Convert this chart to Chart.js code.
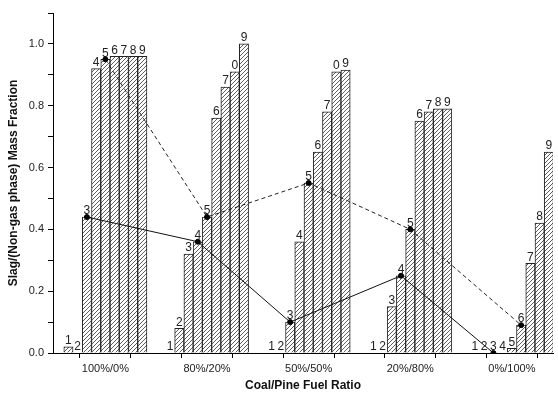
<!DOCTYPE html>
<html>
<head>
<meta charset="utf-8">
<script src="https://cdn.jsdelivr.net/npm/chart.js@4"></script>
<style>
html,body{margin:0;padding:0;background:#fff;}
canvas{display:block;}
</style>
</head>
<body>
<canvas id="c" width="558" height="393"></canvas>
<script>
// ---- data ----
const categories = ['100%/0%', '80%/20%', '50%/50%', '20%/80%', '0%/100%'];
const coal100 = [0.02, 0, 0.44, 0.92, 0.95, 0.96, 0.96, 0.96, 0.96];
const coal80  = [0, 0.08, 0.32, 0.36, 0.44, 0.76, 0.86, 0.91, 1.00];
const coal50  = [0, 0, 0.10, 0.36, 0.55, 0.65, 0.78, 0.91, 0.915];
const coal20  = [0, 0, 0.15, 0.25, 0.40, 0.75, 0.78, 0.79, 0.79];
const coal0   = [0, 0, 0, 0, 0.015, 0.09, 0.29, 0.42, 0.65];
const labels100 = ['1','2','3','4','5','6','7','8','9'];
const labels80  = ['1','2','3','4','5','6','7','0','9'];
const labels50  = ['1','2','3','4','5','6','7','0','9'];
const labels20  = ['1','2','3','4','5','6','7','8','9'];
const labels0   = ['1','2','3','4','5','6','7','8','9'];
const solidBar  = [3, 4, 3, 4, 3];   // bar number marked on solid line
const dashedBar = [5, 5, 5, 5, 6];   // bar number marked on dashed line
const yTicks = [0, 0.1, 0.2, 0.3, 0.4, 0.5, 0.6, 0.7, 0.8, 0.9, 1.0, 1.1];

// ---- build ----
const groupsVals = [coal100, coal80, coal50, coal20, coal0];
const groupsLabels = [labels100, labels80, labels50, labels20, labels0];
const SLOTS = 11;
const barPoints = [];
const barText = [];
groupsVals.forEach((vals, g) => {
  vals.forEach((v, i) => {
    barPoints.push({x: g * SLOTS + i, y: v});
    barText.push(groupsLabels[g][i]);
  });
});
const solidPts = solidBar.map((b, g) => ({x: g * SLOTS + b - 1, y: groupsVals[g][b - 1]}));
const dashedPts = dashedBar.map((b, g) => ({x: g * SLOTS + b - 1, y: groupsVals[g][b - 1]}));

// hatch pattern
function hatch() {
  const s = 4;
  const cv = document.createElement('canvas');
  cv.width = s; cv.height = s;
  const c = cv.getContext('2d');
  c.fillStyle = '#ffffff';
  c.fillRect(0, 0, s, s);
  c.strokeStyle = '#606060';
  c.lineWidth = 1;
  c.beginPath();
  c.moveTo(-1, s + 1); c.lineTo(s + 1, -1);
  c.moveTo(-1, 1); c.lineTo(1, -1);
  c.moveTo(s - 1, s + 1); c.lineTo(s + 1, s - 1);
  c.stroke();
  return c.createPattern(cv, 'repeat');
}

const FONT = '"Liberation Sans", Arial, sans-serif';

const barLabelPlugin = {
  id: 'barLabels',
  afterDatasetDraw(chart, args) {
    if (args.index !== 0) return;
    const ctx = chart.ctx;
    const meta = chart.getDatasetMeta(0);
    ctx.save();
    ctx.font = '12px ' + FONT;
    ctx.fillStyle = '#222';
    ctx.textAlign = 'center';
    ctx.textBaseline = 'bottom';
    meta.data.forEach((el, i) => {
      ctx.fillText(barText[i], el.x, el.y);
    });
    ctx.restore();
  }
};

const majorTicks = categories.map((c, g) => g * SLOTS + 4);
const minorTicks = categories.slice(0, -1).map((c, g) => g * SLOTS + 4 + SLOTS / 2);

new Chart(document.getElementById('c'), {
  data: {
    datasets: [
      {
        type: 'bar',
        data: barPoints,
        backgroundColor: hatch(),
        borderColor: '#222',
        borderWidth: 1,
        barPercentage: 1,
        categoryPercentage: 1,
        order: 3
      },
      {
        type: 'line',
        data: solidPts,
        borderColor: '#111',
        borderWidth: 1,
        pointRadius: 2.5,
        pointBackgroundColor: '#000',
        pointBorderColor: '#000',
        tension: 0,
        order: 1
      },
      {
        type: 'line',
        data: dashedPts,
        borderColor: '#222',
        borderWidth: 1,
        borderDash: [4, 3],
        pointRadius: 2.5,
        pointBackgroundColor: '#000',
        pointBorderColor: '#000',
        tension: 0,
        order: 2
      }
    ]
  },
  options: {
    responsive: false,
    animation: false,
    devicePixelRatio: 1,
    layout: {padding: {top: 13, right: 0, left: 0, bottom: 0}},
    plugins: {legend: {display: false}, tooltip: {enabled: false}},
    scales: {
      x: {
        type: 'linear',
        min: -1.67,
        max: 52.45,
        offset: false,
        afterBuildTicks(scale) {
          scale.ticks = majorTicks.concat(minorTicks).sort((a, b) => a - b).map(v => ({value: v}));
        },
        afterFit(scale) { scale.height = 40; },
        ticks: {
          autoSkip: false,
          maxRotation: 0,
          padding: 4,
          color: '#222',
          font: {family: FONT, size: 11},
          callback(value) {
            const g = majorTicks.indexOf(value);
            return g >= 0 ? categories[g] : '';
          }
        },
        grid: {drawOnChartArea: false, tickLength: 5, color: '#000', tickColor: '#000'},
        border: {display: true, color: '#000', width: 1},
        title: {
          display: true,
          text: 'Coal/Pine Fuel Ratio',
          color: '#111',
          font: {family: FONT, size: 12, weight: 'bold'},
          padding: {top: 0, bottom: 0}
        }
      },
      y: {
        type: 'linear',
        min: 0,
        max: 1.1,
        afterBuildTicks(scale) {
          scale.ticks = yTicks.map(v => ({value: v}));
        },
        afterFit(scale) { scale.width = 53; },
        ticks: {
          padding: 4,
          color: '#222',
          font: {family: FONT, size: 11},
          callback(value) {
            return Math.round(value * 10) % 2 === 0 ? value.toFixed(1) : '';
          }
        },
        grid: {drawOnChartArea: false, tickLength: 5, color: '#000', tickColor: '#000'},
        border: {display: true, color: '#000', width: 1},
        title: {
          display: true,
          text: 'Slag/(Non-gas phase) Mass Fraction',
          color: '#111',
          font: {family: FONT, size: 12, weight: 'bold'},
          padding: {top: 6, bottom: 0}
        }
      }
    }
  },
  plugins: [barLabelPlugin]
});
</script>
</body>
</html>
